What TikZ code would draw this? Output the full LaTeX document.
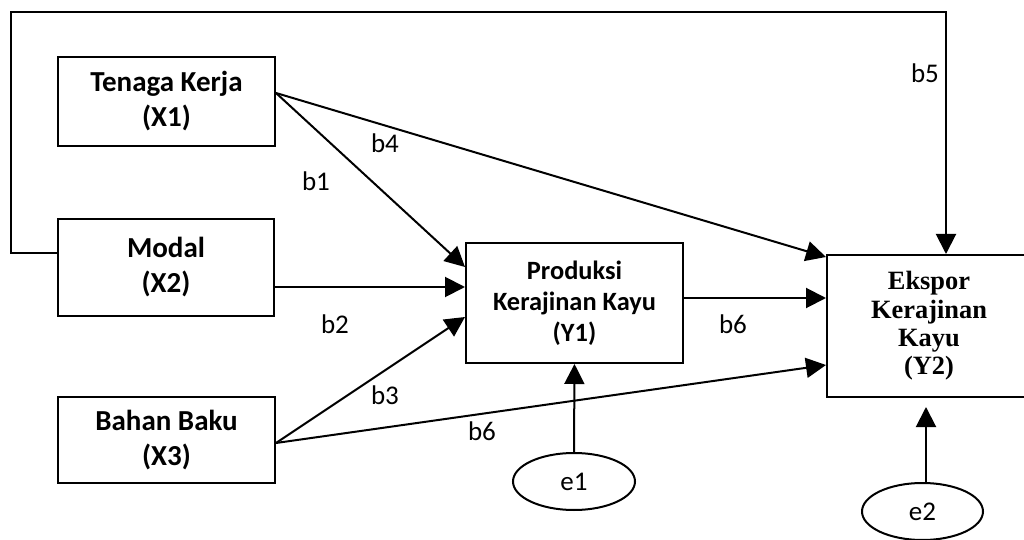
\documentclass[tikz,border=0pt]{standalone}
\usepackage{fontspec}
\setmainfont{Carlito}
\newfontfamily\timesfont{Liberation Serif}
\usetikzlibrary{arrows.meta, shapes.geometric}

\begin{document}
\begin{tikzpicture}[x=0.5pt, y=-0.5pt]

% Define styles
\tikzstyle{var}=[draw, line width=1pt, align=center, inner sep=0pt, font=\fontsize{14.5}{17.5}\selectfont\bfseries]
\tikzstyle{endo}=[draw, line width=1pt, align=center, inner sep=0pt]
\tikzstyle{err}=[draw, ellipse, line width=1pt, inner sep=0pt, font=\fontsize{13.5}{16}\selectfont]
\tikzstyle{coef}=[font=\fontsize{13.5}{16}\selectfont]
\tikzstyle{arr}=[line width=1pt, -{Triangle[length=10pt, width=10pt]}]

\useasboundingbox (0,0) rectangle (1024,540);

% Exogenous variables
\node[var, minimum width=108.5pt, minimum height=44.5pt] (x1) at (166.5,101.5) {Tenaga Kerja\\(X1)};
\node[var, minimum width=108pt, minimum height=48.5pt] (x2) at (166,267.5) {Modal\\(X2)};
\node[var, minimum width=108.5pt, minimum height=43pt] (x3) at (166.5,440) {Bahan Baku\\(X3)};

% Endogenous variables
\node[endo, minimum width=108.5pt, minimum height=60pt, font=\fontsize{13.2}{15.5}\selectfont\bfseries] (y1) at (574.5,303) {Produksi\\Kerajinan Kayu\\(Y1)};
\node[endo, minimum width=102pt, minimum height=71pt, font=\fontsize{13.2}{14.2}\selectfont\timesfont\bfseries] (y2) at (929,326) {Ekspor\\Kerajinan\\Kayu\\(Y2)};

% Error terms
\node[err, minimum width=61pt, minimum height=28.5pt] (e1) at (574,481.5) {e1};
\node[err, minimum width=60.5pt, minimum height=28.5pt] (e2) at (922.5,511.5) {e2};

% Paths
\draw[arr] ([yshift=4.25pt]x1.east) -- ([yshift=18pt]y1.west);
\draw[arr] ([yshift=-9.75pt]x2.east) -- ([yshift=8pt]y1.west);
\draw[arr] ([yshift=-1.5pt]x3.east) -- ([yshift=-7pt]y1.west);
\draw[arr] ([yshift=4.25pt]x1.east) -- ([yshift=34.5pt]y2.west);
\draw[arr] ([yshift=-1.5pt]x3.east) -- ([yshift=-19.5pt]y2.west);
\draw[arr] ([yshift=2.5pt]y1.east) -- ([yshift=14pt]y2.west);
\coordinate (loop) at (11,12);
\draw[arr] ([yshift=7.25pt]x2.west) -| (loop) -| ([xshift=8.5pt]y2.north);
\draw[arr] (e1.north) -- (y1.south);
\draw[arr, shorten >=4.5pt] ([xshift=1.75pt]e2.north) -- ([xshift=1.75pt]e2.north |- y2.south);

% Coefficients
\node[coef] (b1) at (316,181) {b1};
\node[coef] (b2) at (335,324) {b2};
\node[coef] (b3) at (385,395) {b3};
\node[coef] (b4) at (385,143) {b4};
\node[coef] (b5) at (925,73) {b5};
\node[coef] (b6a) at (733,324) {b6};
\node[coef] (b6b) at (482,431) {b6};

\end{tikzpicture}
\end{document}
